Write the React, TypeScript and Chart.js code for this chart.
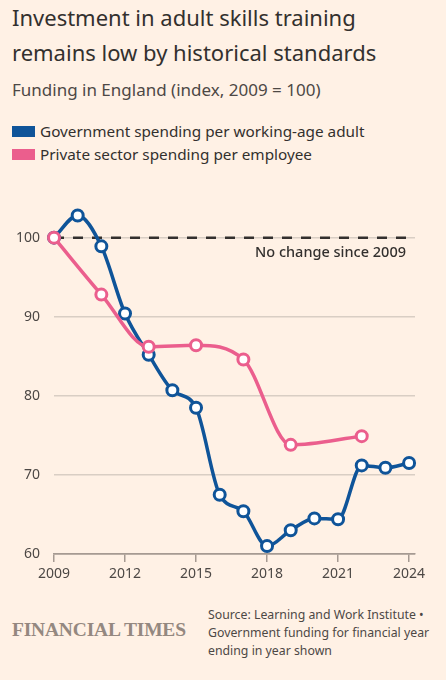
import { useEffect, useRef } from "react";
import { Chart, registerables } from "chart.js";

Chart.register(...registerables);

const years = [2009, 2010, 2011, 2012, 2013, 2014, 2015, 2016, 2017, 2018, 2019, 2020, 2021, 2022, 2023, 2024];
const govSpending = [100, 102.8, 98.9, 90.4, 85.2, 80.7, 78.5, 67.5, 65.4, 61.0, 63.0, 64.5, 64.4, 71.2, 70.9, 71.5];
const privateYears = [2009, 2011, 2013, 2015, 2017, 2019, 2022];
const privateSpending = [100, 92.8, 86.2, 86.4, 84.6, 73.8, 74.9];
const xTicks = [2009, 2012, 2015, 2018, 2021, 2024];
const yTicks = [60, 70, 80, 90, 100];
const baseline = 100;
const baselineLabel = "No change since 2009";

const FONT = "'Noto Sans', sans-serif";
const BLUE = "#0f5499";
const PINK = "#eb5e8d";
const BG = "#fff1e5";
const TEXT = "#33302e";
const MUTED = "#4d4845";
const AXIS = "#a69a92";
const GRID = "#d9cec4";

// dashed "no change" line + its label, drawn behind the series
const baselinePlugin = {
  id: "baseline",
  beforeDatasetsDraw(chart: Chart) {
    const { ctx, chartArea, scales } = chart;
    const y = scales.y.getPixelForValue(baseline);
    ctx.save();
    ctx.strokeStyle = TEXT;
    ctx.lineWidth = 2.5;
    ctx.setLineDash([10, 9]);
    ctx.beginPath();
    ctx.moveTo(chartArea.left, y);
    ctx.lineTo(chartArea.right, y);
    ctx.stroke();
    ctx.setLineDash([]);
    ctx.fillStyle = TEXT;
    ctx.font = `500 14.5px ${FONT}`;
    ctx.textAlign = "right";
    ctx.textBaseline = "middle";
    ctx.fillText(baselineLabel, chartArea.right - 9, y + 15);
    ctx.restore();
  },
};

export default function App() {
  const chartRef = useRef<HTMLCanvasElement>(null);
  const chartInstance = useRef<Chart | null>(null);

  useEffect(() => {
    document.body.style.margin = "0";
    document.body.style.background = BG;
    if (!chartRef.current) return;

    if (chartInstance.current) {
      chartInstance.current.destroy();
    }

    const ctx = chartRef.current.getContext("2d");
    if (!ctx) return;

    const pointStyle = {
      pointRadius: 5.5,
      pointHoverRadius: 5.5,
      pointBorderWidth: 3,
      pointBackgroundColor: "#ffffff",
      borderWidth: 3.5,
      cubicInterpolationMode: "monotone" as const,
      clip: false as const,
    };

    chartInstance.current = new Chart(ctx, {
      type: "line",
      data: {
        datasets: [
          {
            label: "Private sector spending per employee",
            data: privateYears.map((x, i) => ({ x, y: privateSpending[i] })),
            borderColor: PINK,
            pointBorderColor: PINK,
            order: 0,
            ...pointStyle,
          },
          {
            label: "Government spending per working-age adult",
            data: years.map((x, i) => ({ x, y: govSpending[i] })),
            borderColor: BLUE,
            pointBorderColor: BLUE,
            order: 1,
            ...pointStyle,
          },
        ],
      },
      options: {
        animation: false,
        responsive: true,
        maintainAspectRatio: false,
        layout: { padding: { top: 16, right: 31, left: 0, bottom: 0 } },
        plugins: {
          legend: { display: false },
          tooltip: { enabled: false },
        },
        scales: {
          x: {
            type: "linear",
            min: 2009,
            max: 2024.25,
            afterBuildTicks: (s: any) => {
              s.ticks = xTicks.map((value) => ({ value }));
            },
            afterFit: (s: any) => {
              s.height = 36;
            },
            ticks: {
              color: MUTED,
              font: { family: FONT, size: 14 },
              padding: 4,
              maxRotation: 0,
              autoSkip: false,
              callback: (v: any) => String(v),
            },
            grid: {
              drawOnChartArea: false,
              drawTicks: true,
              tickLength: 8,
              color: AXIS,
              lineWidth: 1.5,
            },
            border: { display: true, color: AXIS, width: 1.5 },
          },
          y: {
            min: 60,
            max: 104,
            afterBuildTicks: (s: any) => {
              s.ticks = yTicks.map((value) => ({ value }));
            },
            afterFit: (s: any) => {
              s.width = 54;
              s.paddingTop = 0;
              s.paddingBottom = 0;
            },
            ticks: {
              color: MUTED,
              font: { family: FONT, size: 14 },
              padding: 14,
            },
            grid: {
              drawTicks: false,
              lineWidth: 1.5,
              color: (c: any) => (c.tick && c.tick.value === 60 ? AXIS : GRID),
            },
            border: { display: false },
          },
        },
      },
      plugins: [baselinePlugin],
    });

    return () => {
      if (chartInstance.current) {
        chartInstance.current.destroy();
        chartInstance.current = null;
      }
    };
  }, []);

  const swatch = (color: string) => (
    <span
      style={{
        display: "inline-block",
        width: 23,
        height: 11,
        background: color,
        marginRight: 5,
        verticalAlign: "middle",
        position: "relative",
        top: -1,
      }}
    />
  );

  return (
    <div
      style={{
        position: "relative",
        width: 446,
        height: 680,
        background: BG,
        fontFamily: FONT,
        color: TEXT,
        overflow: "hidden",
      }}
    >
      <div style={{ position: "absolute", left: 12, top: 0, fontSize: 22, lineHeight: "35px", width: 430 }}>
        Investment in adult skills training
        <br />
        remains low by historical standards
      </div>
      <div style={{ position: "absolute", left: 12, top: 78, fontSize: 17, lineHeight: "24px", color: MUTED }}>
        Funding in England (index, 2009 = 100)
      </div>
      <div style={{ position: "absolute", left: 12, top: 120, fontSize: 15.3, lineHeight: "23px", color: TEXT }}>
        <div>
          {swatch(BLUE)}Government spending per working-age adult
        </div>
        <div>
          {swatch(PINK)}Private sector spending per employee
        </div>
      </div>
      <div style={{ position: "absolute", left: 0, top: 190, width: 446, height: 400 }}>
        <canvas ref={chartRef} />
      </div>
      <div
        style={{
          position: "absolute",
          left: 12,
          top: 618,
          fontFamily: "'Liberation Serif', 'DejaVu Serif', serif",
          fontSize: 19.5,
          fontWeight: 600,
          color: "#948880",
          letterSpacing: -0.2,
          lineHeight: "24px",
          whiteSpace: "nowrap",
        }}
      >
        FINANCIAL TIMES
      </div>
      <div
        style={{
          position: "absolute",
          left: 208,
          top: 606,
          width: 236,
          fontSize: 12.3,
          lineHeight: "18px",
          color: MUTED,
          whiteSpace: "nowrap",
        }}
      >
        Source: Learning and Work Institute •
        <br />
        Government funding for financial year
        <br />
        ending in year shown
      </div>
    </div>
  );
}
